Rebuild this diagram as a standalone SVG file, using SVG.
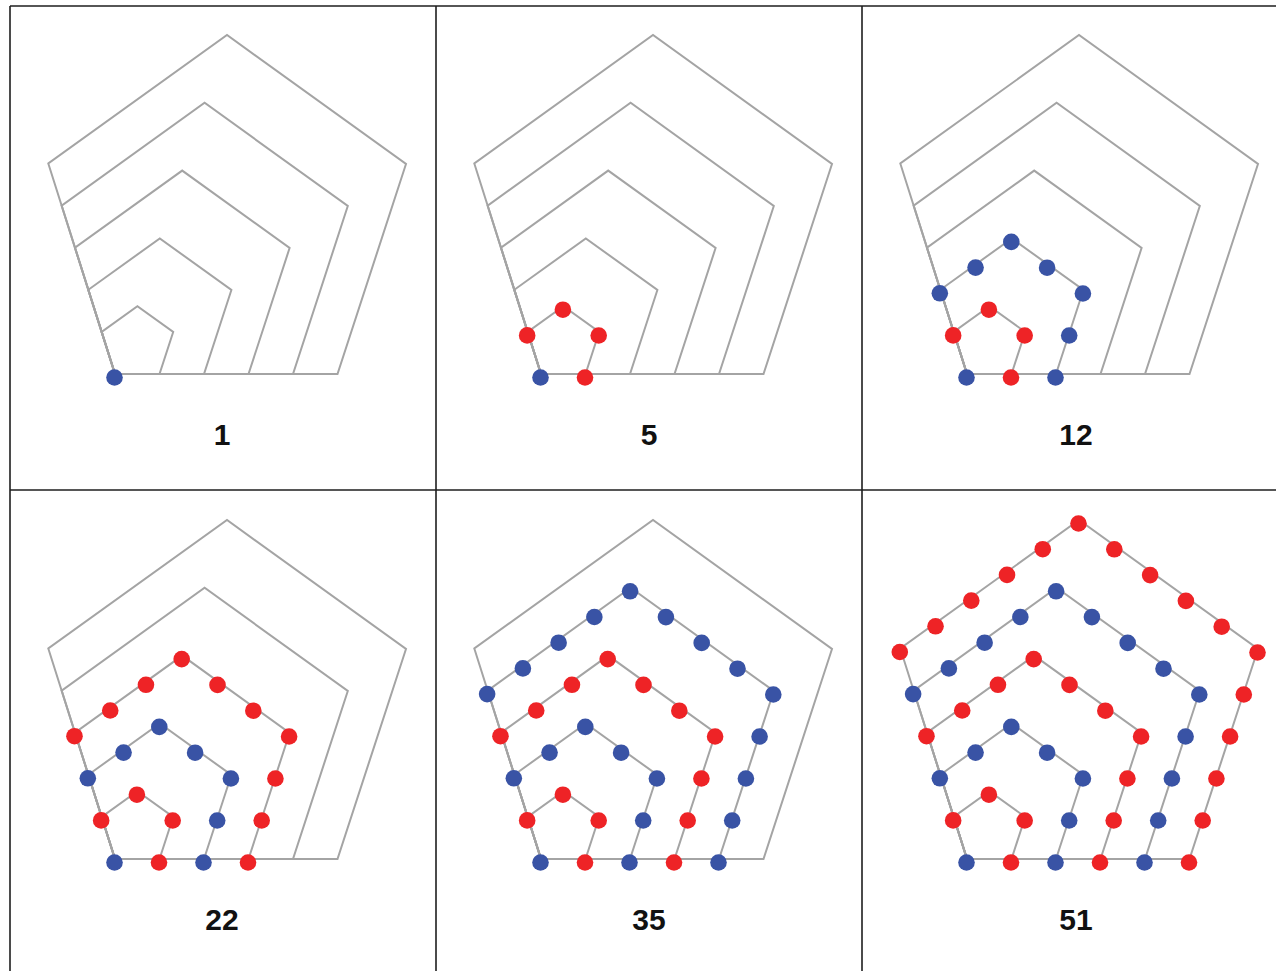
<svg xmlns="http://www.w3.org/2000/svg" width="1276" height="971" viewBox="0 0 1276 971">
<style>
.grid{stroke:#1e1e1e;stroke-width:1.6;fill:none}
.pent{stroke:#a4a4a4;stroke-width:2;fill:none;stroke-linejoin:miter}
.b{fill:#3953a5}
.r{fill:#ee2326}
.lbl{font-family:"Liberation Sans",Arial,sans-serif;font-weight:bold;font-size:30px;fill:#111;text-anchor:middle}
</style>
<defs>
<g id="outline">
<polygon class="pent" points="0,0 44.5,0 58.2,-42 22.4,-67.8 -13.34,-42.1"/>
<polygon class="pent" points="0,0 89,0 116.4,-84 44.8,-135.6 -26.68,-84.2"/>
<polygon class="pent" points="0,0 133.5,0 174.6,-126 67.2,-203.4 -40.02,-126.3"/>
<polygon class="pent" points="0,0 178,0 232.8,-168 89.6,-271.2 -53.36,-168.4"/>
<polygon class="pent" points="0,0 222.5,0 291,-210 112,-339 -66.7,-210.5"/>
</g>
<g id="L0" class="b" transform="translate(-0.5,3.5)">
<circle cx="0" cy="0" r="8.3"/>
</g>
<g id="L1" class="r" transform="translate(-0.5,3.5)">
<circle cx="44.5" cy="0" r="8.3"/><circle cx="58.2" cy="-42" r="8.3"/><circle cx="22.4" cy="-67.8" r="8.3"/><circle cx="-13.34" cy="-42.1" r="8.3"/>
</g>
<g id="L2" class="b" transform="translate(-0.5,3.5)">
<circle cx="89" cy="0" r="8.3"/><circle cx="102.7" cy="-42" r="8.3"/><circle cx="116.4" cy="-84" r="8.3"/>
<circle cx="80.6" cy="-109.8" r="8.3"/><circle cx="44.8" cy="-135.6" r="8.3"/>
<circle cx="9.06" cy="-109.9" r="8.3"/><circle cx="-26.68" cy="-84.2" r="8.3"/>
</g>
<g id="L3" class="r" transform="translate(-0.5,3.5)">
<circle cx="133.5" cy="0" r="8.3"/><circle cx="147.2" cy="-42" r="8.3"/><circle cx="160.9" cy="-84" r="8.3"/><circle cx="174.6" cy="-126" r="8.3"/>
<circle cx="138.8" cy="-151.8" r="8.3"/><circle cx="103" cy="-177.6" r="8.3"/><circle cx="67.2" cy="-203.4" r="8.3"/>
<circle cx="31.46" cy="-177.7" r="8.3"/><circle cx="-4.28" cy="-152" r="8.3"/><circle cx="-40.02" cy="-126.3" r="8.3"/>
</g>
<g id="L4" class="b" transform="translate(-0.5,3.5)">
<circle cx="178" cy="0" r="8.3"/><circle cx="191.7" cy="-42" r="8.3"/><circle cx="205.4" cy="-84" r="8.3"/><circle cx="219.1" cy="-126" r="8.3"/><circle cx="232.8" cy="-168" r="8.3"/>
<circle cx="197" cy="-193.8" r="8.3"/><circle cx="161.2" cy="-219.6" r="8.3"/><circle cx="125.4" cy="-245.4" r="8.3"/><circle cx="89.6" cy="-271.2" r="8.3"/>
<circle cx="53.86" cy="-245.5" r="8.3"/><circle cx="18.12" cy="-219.8" r="8.3"/><circle cx="-17.62" cy="-194.1" r="8.3"/><circle cx="-53.36" cy="-168.4" r="8.3"/>
</g>
<g id="L5" class="r" transform="translate(-0.5,3.5)">
<circle cx="222.5" cy="0" r="8.3"/><circle cx="236.2" cy="-42" r="8.3"/><circle cx="249.9" cy="-84" r="8.3"/><circle cx="263.6" cy="-126" r="8.3"/><circle cx="277.3" cy="-168" r="8.3"/><circle cx="291" cy="-210" r="8.3"/>
<circle cx="255.2" cy="-235.8" r="8.3"/><circle cx="219.4" cy="-261.6" r="8.3"/><circle cx="183.6" cy="-287.4" r="8.3"/><circle cx="147.8" cy="-313.2" r="8.3"/><circle cx="112" cy="-339" r="8.3"/>
<circle cx="76.26" cy="-313.3" r="8.3"/><circle cx="40.52" cy="-287.6" r="8.3"/><circle cx="4.78" cy="-261.9" r="8.3"/><circle cx="-30.96" cy="-236.2" r="8.3"/><circle cx="-66.7" cy="-210.5" r="8.3"/>
</g>
</defs>
<rect x="0" y="0" width="1276" height="971" fill="#ffffff"/>
<g id="grid">
<line class="grid" x1="10" y1="6" x2="1276" y2="6"/>
<line class="grid" x1="10" y1="490" x2="1276" y2="490"/>
<line class="grid" x1="10" y1="6" x2="10" y2="971"/>
<line class="grid" x1="436" y1="6" x2="436" y2="971"/>
<line class="grid" x1="862" y1="6" x2="862" y2="971"/>
</g>
<g id="cell1" transform="translate(115,374)">
<use href="#outline"/><use href="#L0"/>
</g>
<g id="cell2" transform="translate(541,374)">
<use href="#outline"/><use href="#L0"/><use href="#L1"/>
</g>
<g id="cell3" transform="translate(967,374)">
<use href="#outline"/><use href="#L0"/><use href="#L1"/><use href="#L2"/>
</g>
<g id="cell4" transform="translate(115,859)">
<use href="#outline"/><use href="#L0"/><use href="#L1"/><use href="#L2"/><use href="#L3"/>
</g>
<g id="cell5" transform="translate(541,859)">
<use href="#outline"/><use href="#L0"/><use href="#L1"/><use href="#L2"/><use href="#L3"/><use href="#L4"/>
</g>
<g id="cell6" transform="translate(967,859)">
<use href="#outline"/><use href="#L0"/><use href="#L1"/><use href="#L2"/><use href="#L3"/><use href="#L4"/><use href="#L5"/>
</g>
<g id="labels">
<text class="lbl" x="222" y="445">1</text>
<text class="lbl" x="649" y="445">5</text>
<text class="lbl" x="1076" y="445">12</text>
<text class="lbl" x="222" y="930">22</text>
<text class="lbl" x="649" y="930">35</text>
<text class="lbl" x="1076" y="930">51</text>
</g>
</svg>
